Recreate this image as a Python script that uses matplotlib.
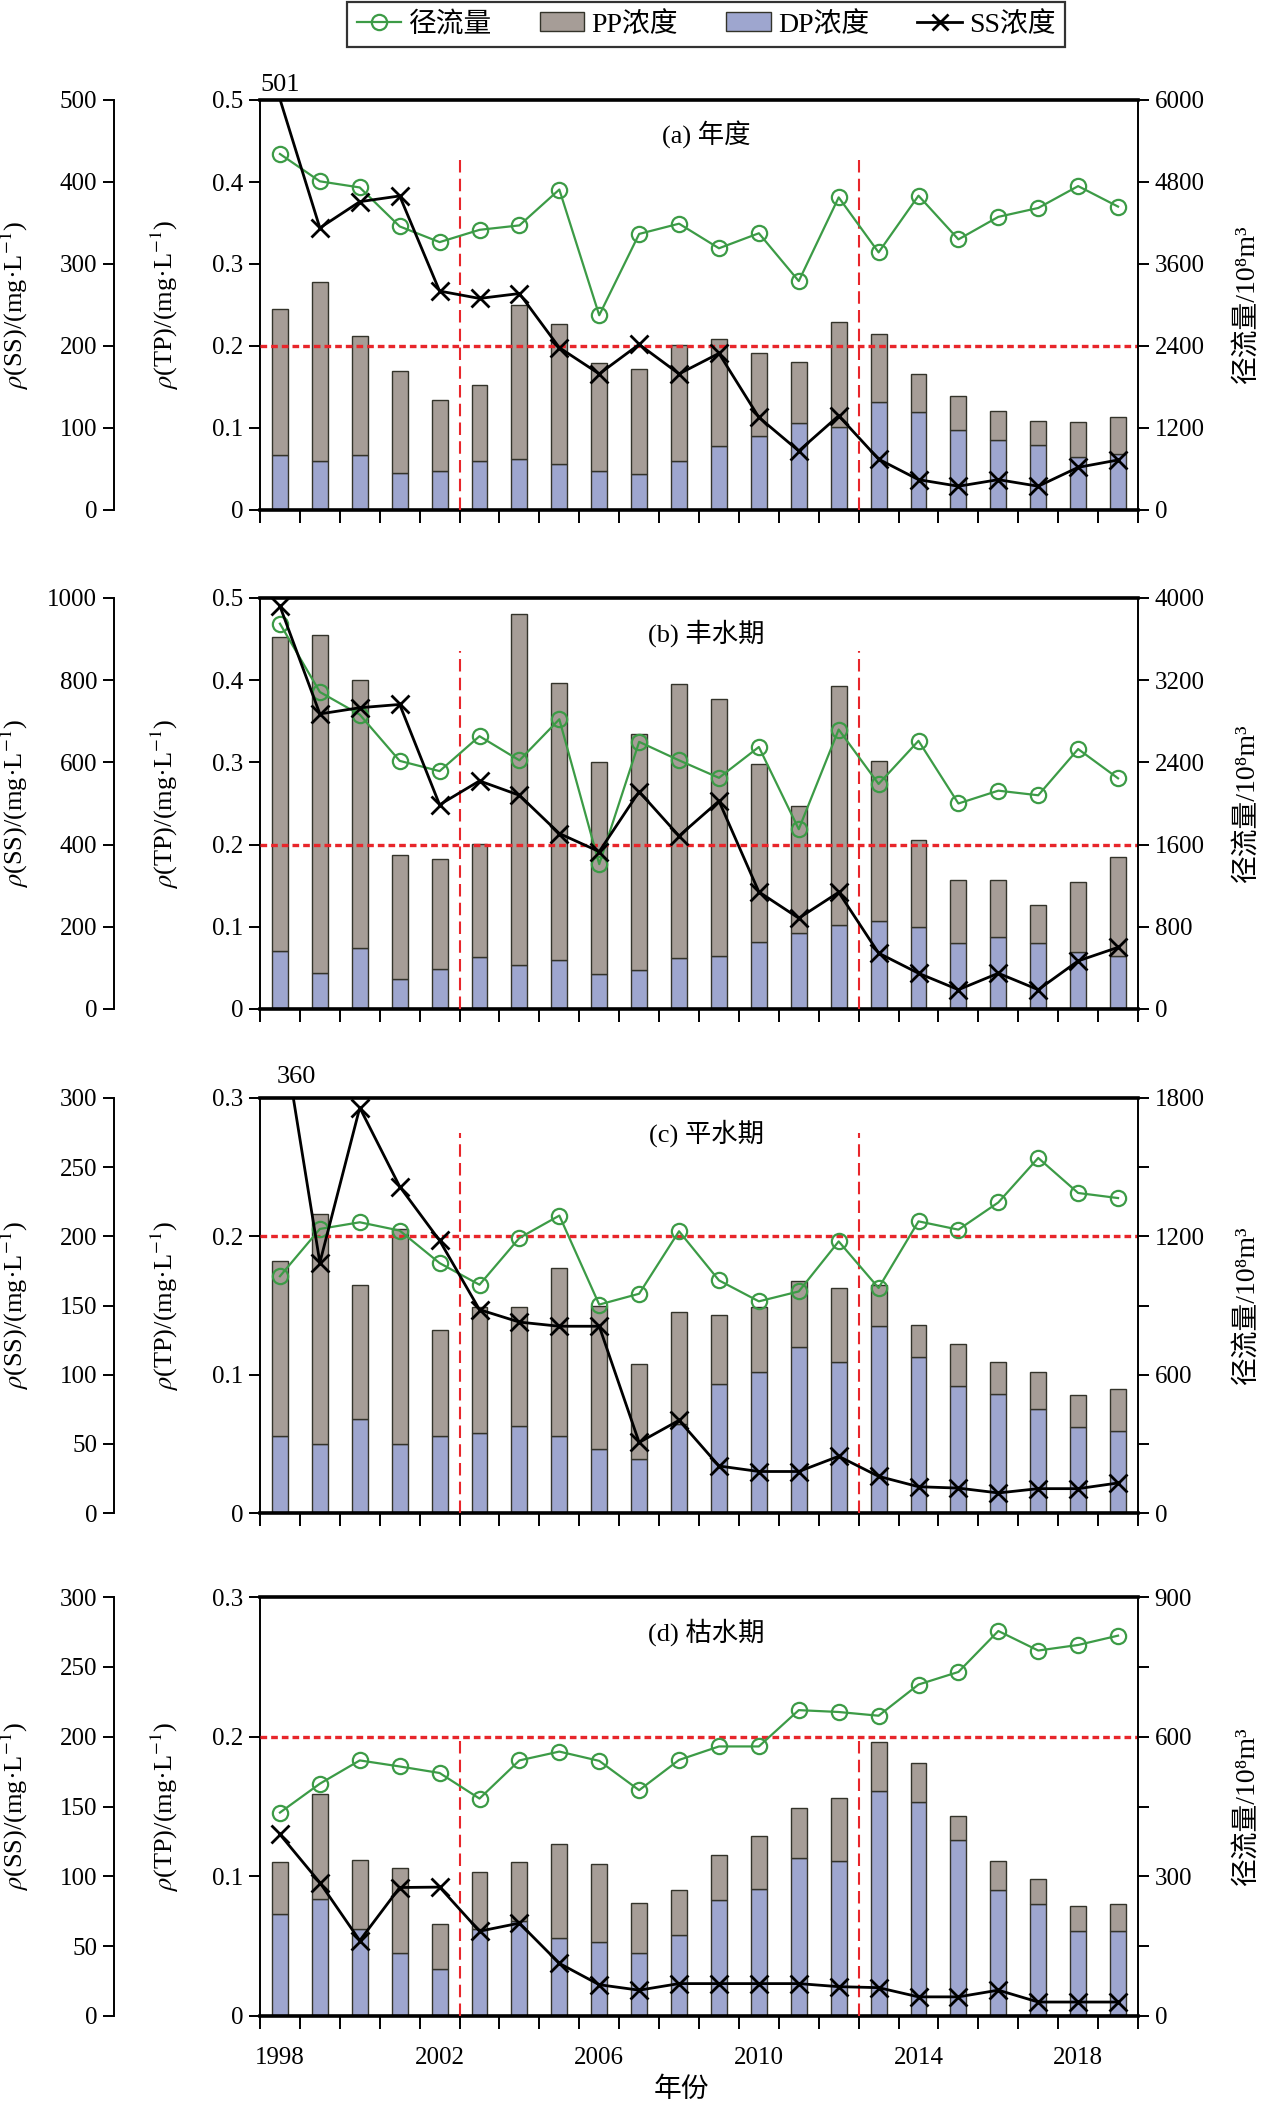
import numpy as np
import matplotlib
matplotlib.use('Agg')
import matplotlib.pyplot as plt
from matplotlib.lines import Line2D
from matplotlib.patches import Patch
from matplotlib.ticker import MultipleLocator, FuncFormatter

plt.rcParams['font.family'] = ['Liberation Serif', 'DejaVu Serif', 'Noto Sans CJK SC']
plt.rcParams['mathtext.fontset'] = 'stix'
plt.rcParams['font.size'] = 18

years = np.arange(1998, 2020)

# (a) 年度
tp_a = [0.245, 0.278, 0.212, 0.169, 0.134, 0.152, 0.250, 0.227, 0.179, 0.172, 0.201,
        0.208, 0.192, 0.180, 0.229, 0.215, 0.166, 0.139, 0.121, 0.109, 0.107, 0.114]
dp_a = [0.067, 0.060, 0.067, 0.045, 0.047, 0.060, 0.062, 0.056, 0.047, 0.044, 0.060,
        0.078, 0.090, 0.106, 0.101, 0.132, 0.119, 0.098, 0.085, 0.079, 0.065, 0.068]
q_a = [5210, 4810, 4720, 4150, 3920, 4100, 4165, 4690, 2850, 4040, 4190,
       3830, 4050, 3350, 4575, 3770, 4600, 3960, 4290, 4420, 4740, 4440]
ss_a = [501, 344, 376, 383, 267, 258, 264, 198, 166, 202, 166,
        191, 113, 72, 115, 62, 37, 29, 37, 29, 52, 61]

# (b) 丰水期
tp_b = [0.452, 0.455, 0.400, 0.187, 0.182, 0.201, 0.481, 0.396, 0.301, 0.335, 0.395,
        0.377, 0.298, 0.247, 0.393, 0.302, 0.206, 0.157, 0.157, 0.127, 0.155, 0.185]
dp_b = [0.070, 0.044, 0.074, 0.037, 0.049, 0.063, 0.053, 0.060, 0.042, 0.048, 0.062,
        0.064, 0.081, 0.093, 0.102, 0.107, 0.100, 0.080, 0.087, 0.080, 0.069, 0.064]
q_b = [3750, 3085, 2865, 2415, 2315, 2655, 2420, 2820, 1410, 2600, 2420,
       2250, 2550, 1750, 2720, 2190, 2610, 2000, 2125, 2080, 2530, 2245]
ss_b = [980, 718, 733, 741, 497, 555, 520, 427, 383, 529, 421,
        506, 285, 221, 284, 136, 87, 47, 87, 47, 117, 150]

# (c) 平水期
tp_c = [0.182, 0.216, 0.165, 0.205, 0.132, 0.149, 0.149, 0.177, 0.150, 0.108, 0.145,
        0.143, 0.149, 0.168, 0.163, 0.165, 0.136, 0.122, 0.109, 0.102, 0.085, 0.090]
dp_c = [0.056, 0.050, 0.068, 0.050, 0.056, 0.058, 0.063, 0.056, 0.046, 0.039, 0.064,
        0.093, 0.102, 0.120, 0.109, 0.135, 0.113, 0.092, 0.086, 0.075, 0.062, 0.059]
q_c = [1027, 1232, 1261, 1225, 1084, 990, 1193, 1290, 904, 951, 1222,
       1009, 918, 961, 1178, 976, 1265, 1229, 1347, 1540, 1388, 1366]
ss_c = [360, 181, 293, 236, 197, 147, 138, 135, 135, 51, 67,
        34, 30, 30, 41, 26.5, 19, 18, 14.5, 17.6, 17.6, 21.7]

# (d) 枯水期
tp_d = [0.110, 0.159, 0.112, 0.106, 0.066, 0.103, 0.110, 0.123, 0.109, 0.081, 0.090,
        0.115, 0.129, 0.149, 0.156, 0.196, 0.181, 0.143, 0.111, 0.098, 0.079, 0.080]
dp_d = [0.073, 0.084, 0.062, 0.045, 0.034, 0.062, 0.068, 0.056, 0.053, 0.045, 0.058,
        0.083, 0.091, 0.113, 0.111, 0.161, 0.153, 0.126, 0.090, 0.080, 0.061, 0.061]
q_d = [437, 499, 549, 536, 522, 467, 549, 568, 548, 485, 550,
       579, 579, 657, 653, 645, 712, 739, 827, 785, 797, 817]
ss_d = [130, 95.5, 54, 92, 92.3, 60.7, 66.5, 37.7, 22.4, 18.5, 23.2,
        23.2, 23.2, 23.2, 21, 20.3, 13.7, 13.7, 18.5, 10, 10, 10]

titles = ['(a) 年度', '(b) 丰水期', '(c) 平水期', '(d) 枯水期']
tp_limit = 0.2
breaks = [2002.5, 2012.5]

PP_COL = '#A69D97'
DP_COL = '#9EA6CF'
GREEN = '#3C9B46'
RED = '#E8262B'
EDGE = '#33332a'

W, H = 1265, 2107
fig = plt.figure(figsize=(W / 100, H / 100), dpi=100)

panels = [
    dict(tp=tp_a, dp=dp_a, q=q_a, ss=ss_a, tpmax=0.5, ssmax=500, ssstep=100,
         qmax=6000, qstep=1200, qminor=None, vtop=0.434, top=100, bot=510),
    dict(tp=tp_b, dp=dp_b, q=q_b, ss=ss_b, tpmax=0.5, ssmax=1000, ssstep=200,
         qmax=4000, qstep=800, qminor=None, vtop=0.436, top=598, bot=1009),
    dict(tp=tp_c, dp=dp_c, q=q_c, ss=ss_c, tpmax=0.3, ssmax=300, ssstep=50,
         qmax=1800, qstep=600, qminor=300, vtop=0.275, top=1098, bot=1513),
    dict(tp=tp_d, dp=dp_d, q=q_d, ss=ss_d, tpmax=0.3, ssmax=300, ssstep=50,
         qmax=900, qstep=300, qminor=150, vtop=0.2, top=1597, bot=2016),
]

left_px, right_px, ss_px = 260, 1138, 114
tpfmt = FuncFormatter(lambda v, pos: '0' if abs(v) < 1e-9 else f'{v:.1f}')
axes_tp = []

for i, p in enumerate(panels):
    rect = [left_px / W, 1 - p['bot'] / H, (right_px - left_px) / W, (p['bot'] - p['top']) / H]
    ax = fig.add_axes(rect)
    axq = ax.twinx()
    axs = ax.twinx()
    axes_tp.append(ax)

    tp = np.array(p['tp'])
    dp = np.array(p['dp'])
    ax.bar(years, dp, width=0.4, color=DP_COL, edgecolor=EDGE, linewidth=1.0, zorder=2)
    ax.bar(years, tp - dp, bottom=dp, width=0.4, color=PP_COL, edgecolor=EDGE,
           linewidth=1.0, zorder=2)
    ax.axhline(tp_limit, color=RED, lw=2.4, ls=(0, (2.0, 1.2)), zorder=5)
    for b in breaks:
        ax.plot([b, b], [0, p['vtop']], color=RED, lw=1.5, ls=(0, (6, 3)), zorder=5,
                clip_on=False)

    axq.plot(years, p['q'], color=GREEN, lw=1.6, marker='o', ms=11, mfc='none',
             mec=GREEN, mew=1.6)
    # no marker for values above the axis range (labelled instead)
    inside = [k for k, v in enumerate(p['ss']) if v <= p['ssmax']]
    axs.plot(years, p['ss'], color='black', lw=2.0, marker='x', ms=13, mew=2.0,
             markevery=inside)

    # axes limits and ticks
    ax.set_xlim(1997.5, 2019.5)
    ax.set_ylim(0, p['tpmax'])
    axq.set_ylim(0, p['qmax'])
    axs.set_ylim(0, p['ssmax'])

    ax.set_xticks(years[::4])
    ax.set_xticks(np.arange(1997.5, 2020, 1.0), minor=True)
    ax.tick_params(axis='x', which='major', length=0, pad=22)
    ax.tick_params(axis='x', which='minor', length=9, width=1.4, direction='out')
    if i < 3:
        ax.tick_params(axis='x', labelbottom=False)

    ax.yaxis.set_major_locator(MultipleLocator(0.1))
    ax.yaxis.set_major_formatter(tpfmt)
    ax.tick_params(axis='y', length=8, width=1.4, direction='out', pad=4)

    axq.yaxis.set_major_locator(MultipleLocator(p['qstep']))
    if p['qminor']:
        axq.yaxis.set_minor_locator(MultipleLocator(p['qminor']))
    axq.tick_params(axis='y', which='both', length=8, width=1.4, direction='out', pad=4)

    axs.spines['left'].set_position(('axes', -(left_px - ss_px) / (right_px - left_px)))
    axs.spines['left'].set_visible(True)
    axs.yaxis.set_ticks_position('left')
    axs.yaxis.set_major_locator(MultipleLocator(p['ssstep']))
    axs.tick_params(axis='y', length=8, width=1.4, direction='out', pad=4)

    for a in (axq, axs):
        a.spines['top'].set_visible(False)
        a.spines['bottom'].set_visible(False)
    axs.spines['right'].set_visible(False)
    axq.spines['left'].set_visible(False)
    axq.spines['right'].set_linewidth(1.4)
    axs.spines['left'].set_linewidth(1.4)
    ax.spines['left'].set_linewidth(1.4)
    ax.spines['right'].set_visible(False)
    ax.spines['top'].set_linewidth(2.6)
    ax.spines['bottom'].set_linewidth(2.6)

    ax.text(0.508, 0.915, titles[i], transform=ax.transAxes, ha='center', va='center',
            fontsize=19)

    yc = 1 - (p['top'] + p['bot']) / 2 / H
    fig.text(15 / W, yc, r'$\rho$(SS)/(mg·L$^{-1}$)', rotation=90, ha='center',
             va='center', fontsize=19)
    fig.text(165 / W, yc, r'$\rho$(TP)/(mg·L$^{-1}$)', rotation=90, ha='center',
             va='center', fontsize=19)
    fig.text(1247 / W, yc, '径流量/10⁸m³', rotation=90, ha='center',
             va='center', fontsize=20)

    if i == 3:
        ax.set_xticklabels([str(y) for y in years[::4]])

# values beyond the SS axis range
axes_tp[0].annotate(f'{ss_a[0]:.0f}', xy=(1998, 1), xycoords=('data', 'axes fraction'),
                    xytext=(0, 3), textcoords='offset points', ha='center', va='bottom',
                    fontsize=19)
axes_tp[2].annotate(f'{ss_c[0]:.0f}', xy=(1998.4, 1), xycoords=('data', 'axes fraction'),
                    xytext=(0, 7), textcoords='offset points', ha='center', va='bottom',
                    fontsize=19)

fig.text(681 / W, 1 - 2090 / H, '年份', ha='center', va='center', fontsize=20)

handles = [
    Line2D([], [], color=GREEN, lw=1.6, marker='o', ms=11, mfc='none', mec=GREEN, mew=1.6),
    Patch(facecolor=PP_COL, edgecolor=EDGE, lw=1.0),
    Patch(facecolor=DP_COL, edgecolor=EDGE, lw=1.0),
    Line2D([], [], color='black', lw=2.0, marker='x', ms=12, mew=2.0),
]
labels = ['径流量', 'PP浓度', 'DP浓度', 'SS浓度']
leg = fig.legend(handles, labels, loc='center', bbox_to_anchor=(706 / W, 1 - 24.5 / H),
                 ncol=4, fontsize=20, frameon=True, fancybox=False, edgecolor='black',
                 handlelength=1.6, handletextpad=0.25, columnspacing=1.75,
                 borderpad=0.35)
leg.get_frame().set_linewidth(1.6)

fig.savefig('out.png', dpi=100)
